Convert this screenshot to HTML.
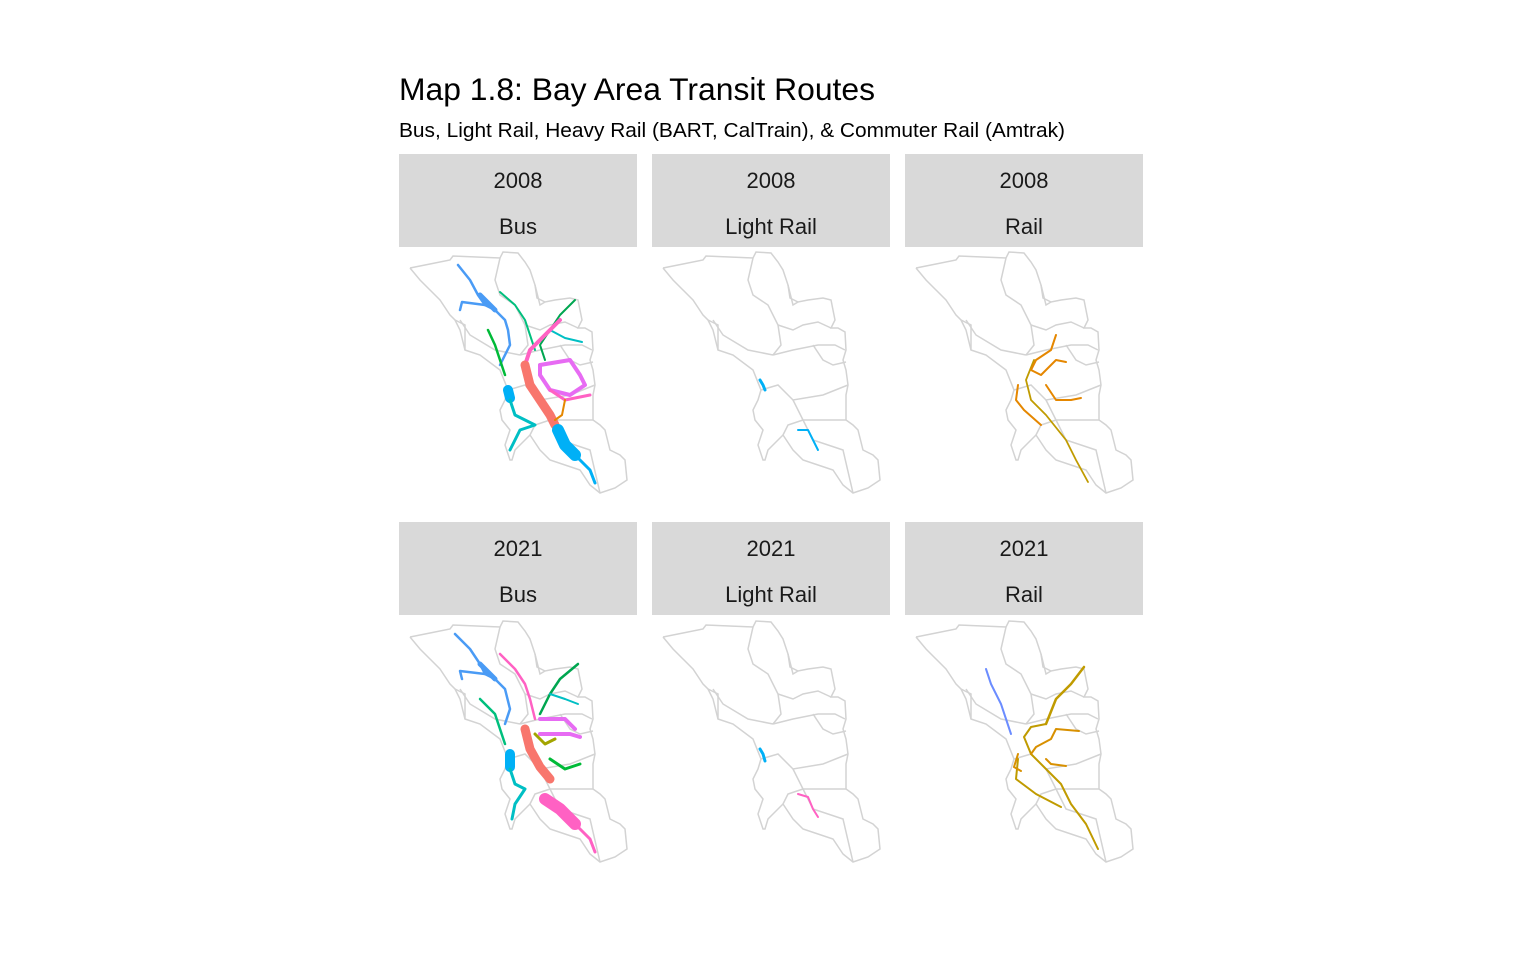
<!DOCTYPE html>
<html><head><meta charset="utf-8">
<style>
body{margin:0;background:#fff;font-family:"Liberation Sans",sans-serif;}
svg text{font-family:"Liberation Sans",sans-serif;}
</style></head>
<body>
<svg id="s" width="1536" height="960" viewBox="0 0 1536 960" xmlns="http://www.w3.org/2000/svg">
<rect width="1536" height="960" fill="#fff"/>
<text x="399" y="100" font-size="31.5" textLength="476" lengthAdjust="spacingAndGlyphs" fill="#000">Map 1.8: Bay Area Transit Routes</text>
<text x="399" y="137" font-size="20" textLength="666" lengthAdjust="spacingAndGlyphs" fill="#000">Bus, Light Rail, Heavy Rail (BART, CalTrain), &amp; Commuter Rail (Amtrak)</text>
</svg>
<script>
const years=["2008","2008","2008","2021","2021","2021"];
const modes=["Bus","Light Rail","Rail","Bus","Light Rail","Rail"];
const outline=[[10,18],[30,14],[50,10],[53,6],[100,8],[103,2],[118,3],[125,12],[130,20],[135,35],[137,48],[145,52],[155,50],[170,48],[178,50],[180,60],[182,70],[178,78],[185,78],[192,82],[193,100],[190,110],[193,120],[195,135],[193,145],[193,170],[200,175],[205,180],[210,200],[220,205],[225,210],[227,230],[215,238],[200,243],[190,235],[180,220],[165,215],[150,210],[140,200],[130,185],[115,200],[112,210],[110,210],[105,195],[110,180],[102,170],[100,160],[105,150],[108,140],[100,120],[80,105],[65,100],[60,80],[55,70],[50,65],[40,50],[30,40],[20,30],[10,18]];
const borders=[[[100,8],[95,30],[100,45],[115,55],[125,75],[128,95],[120,105]],[[135,35],[140,55],[145,52]],[[120,105],[140,100],[165,95],[182,95],[192,100]],[[108,140],[125,135],[140,150],[170,145],[195,135]],[[140,150],[150,170],[193,170]],[[130,185],[135,175],[150,170]],[[60,70],[70,85],[95,100],[120,105]],[[150,170],[160,190],[190,200],[200,243]],[[55,70],[65,75],[65,100]],[[160,95],[170,110],[180,115],[193,112]],[[125,75],[140,80],[150,75],[165,72],[178,78]]];
const routes=[
 [["#4A9BF5",2.5,[[58,15],[70,30],[78,45],[85,55],[95,60],[105,70],[108,80],[110,95],[105,105],[100,115]]],["#4A9BF5",2.5,[[85,55],[62,52],[60,60]]],["#4A9BF5",5,[[80,45],[90,55],[95,60]]],["#00BF7D",2,[[100,42],[115,55],[125,70],[130,85],[135,100]]],["#00BA38",2.5,[[88,80],[95,95],[100,110],[105,125]]],["#00A650",2,[[175,50],[160,65],[150,80],[140,95],[145,110]]],["#00BFC4",2,[[150,80],[165,88],[182,92]]],["#FF61C3",4,[[160,70],[140,90],[130,100],[125,115]]],["#E76BF3",4,[[140,115],[170,110],[180,125],[185,135],[170,145],[150,140],[140,125],[140,115]]],["#F8766D",9,[[125,115],[130,135],[140,150],[150,165],[155,175]]],["#FF61C3",3,[[150,140],[165,150],[190,145]]],["#E58700",2,[[165,150],[162,165],[155,170]]],["#00B0F6",10,[[108,140],[110,148]]],["#00B0F6",12,[[158,180],[165,195],[175,205]]],["#00B0F6",3,[[175,205],[190,220],[195,233]]],["#00BFC4",3,[[110,150],[115,165],[125,170],[135,175],[120,180],[110,200]]]],
 [["#00B0F6",3,[[107,130],[110,135],[112,140]]],["#00B0F6",2,[[145,180],[155,180],[160,190],[165,200]]]],
 [["#C09B00",1.8,[[128,110],[120,130],[125,150],[140,165],[160,190],[170,210],[182,232]]],["#E58700",2,[[150,85],[145,100],[130,110],[125,120],[135,125],[150,110],[160,112]]],["#E58700",2,[[140,135],[150,150],[165,150],[175,148]]],["#E58700",2,[[112,135],[110,150],[118,160],[135,175]]]],
 [["#4A9BF5",2.5,[[55,15],[70,30],[80,45],[85,55],[95,60],[105,70],[110,90],[105,105]]],["#4A9BF5",2.5,[[85,55],[60,52],[62,60]]],["#4A9BF5",5,[[80,45],[90,55],[95,60]]],["#FF61C3",2.5,[[100,35],[115,50],[125,65],[130,80],[135,100]]],["#00BF7D",2.5,[[80,80],[95,95],[100,110],[105,125]]],["#00A650",2.5,[[178,45],[160,60],[150,75],[140,95]]],["#00BFC4",2,[[150,75],[165,80],[178,85]]],["#E76BF3",4,[[140,100],[165,100],[175,110]]],["#E76BF3",4,[[140,115],[170,115],[180,118]]],["#A3A500",3,[[135,115],[145,125],[155,120]]],["#F8766D",9,[[125,110],[130,130],[140,148],[150,160]]],["#00BA38",3,[[150,140],[165,150],[180,145]]],["#00B0F6",10,[[110,135],[110,148]]],["#00BFC4",3,[[110,150],[115,165],[125,170],[115,185],[112,200]]],["#FF61C3",12,[[145,180],[160,190],[175,205]]],["#FF61C3",3,[[175,205],[190,220],[195,233]]]],
 [["#00B0F6",3,[[107,130],[110,135],[112,142]]],["#FF61C3",2,[[145,175],[155,178],[160,190],[165,198]]]],
 [["#6B8CFF",2,[[80,50],[85,65],[95,85],[100,100],[105,115]]],["#C09B00",2.5,[[178,48],[165,65],[150,80],[140,105]]],["#C09B00",2,[[140,105],[125,108],[118,118],[125,135],[140,150],[155,165],[165,185],[180,205],[192,230]]],["#C09B00",2,[[112,140],[110,160],[130,175],[155,188]]],["#D89000",2,[[173,112],[150,110],[145,120],[130,128],[125,135]]],["#D89000",2,[[112,135],[108,148],[115,152]]],["#D89000",2,[[160,147],[145,145],[140,140]]]]
];
const px=[399,652,905], stripY=[154,522], mapY=[250,619];
const svg=document.getElementById('s');const NS="http://www.w3.org/2000/svg";
const pts=a=>a.map(p=>p.join(',')).join(' ');
for(let i=0;i<6;i++){
 const c=i%3,r=Math.floor(i/3);const x=px[c];
 const g=document.createElementNS(NS,'g');
 
 
 const st=document.createElementNS(NS,'rect');
 st.setAttribute('x',x);st.setAttribute('y',stripY[r]);st.setAttribute('width',238);st.setAttribute('height',93);st.setAttribute('fill','#d9d9d9');
 
 
 g.appendChild(st);
 [[years[i],stripY[r]+34],[modes[i],stripY[r]+80]].forEach(([t,y])=>{
  const tx=document.createElementNS(NS,'text');tx.setAttribute('x',x+119);tx.setAttribute('y',y);tx.setAttribute('text-anchor','middle');tx.setAttribute('font-size','22');tx.setAttribute('fill','#1a1a1a');tx.textContent=t;
  
  
  g.appendChild(tx);});
 const m=document.createElementNS(NS,'g');m.setAttribute('transform',`translate(${x+1},${mapY[r]})`);
 
 
 const o=document.createElementNS(NS,'polyline');o.setAttribute('points',pts(outline));o.setAttribute('fill','none');o.setAttribute('stroke','#d3d3d3');o.setAttribute('stroke-width','1.5');
 
 
 m.appendChild(o);
 borders.forEach(b=>{const l=document.createElementNS(NS,'polyline');l.setAttribute('points',pts(b));l.setAttribute('fill','none');l.setAttribute('stroke','#d3d3d3');l.setAttribute('stroke-width','1.5');
  
  
  m.appendChild(l);});
 routes[i].forEach(([col,w,p])=>{const l=document.createElementNS(NS,'polyline');l.setAttribute('points',pts(p));l.setAttribute('fill','none');l.setAttribute('stroke',col);l.setAttribute('stroke-width',w);l.setAttribute('stroke-linejoin','round');l.setAttribute('stroke-linecap','round');
  
  
  m.appendChild(l);});
 g.appendChild(m);svg.appendChild(g);
}
</script>
</body></html>
